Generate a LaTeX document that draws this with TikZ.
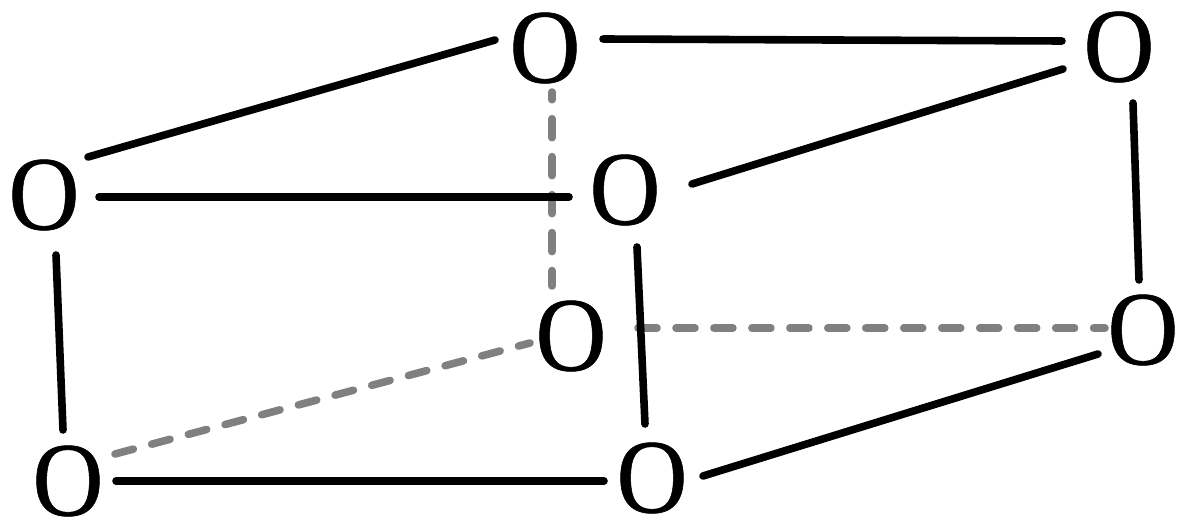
\documentclass[tikz,border=0pt]{standalone}
\usepackage{fontspec}
\setmainfont[FakeBold=0.6]{Liberation Serif}
\newcommand{\atomtext}{\scalebox{0.93}[1.0]{O}}
\tikzset{
  atom/.style={inner sep=0pt,font=\fontsize{75}{75}\selectfont},
  bond/.style={line width=5.4pt,black,line cap=round},
  hidden/.style={line width=5.4pt,color=gray,line cap=round,dash pattern=on 13.5pt off 13.5pt}
}
\begin{document}
\begin{tikzpicture}[x=0.025cm,y=-0.025cm]
    \useasboundingbox (0,0) rectangle (1186,525);
    \node[atom] (a) at (44,195) {\atomtext};
    \node[atom] (b) at (625,190) {\atomtext};
    \node[atom] (c) at (545,48) {\atomtext};
    \node[atom] (d) at (1119,47) {\atomtext};
    \node[atom] (e) at (571,336) {\atomtext};
    \node[atom] (f) at (1143,330) {\atomtext};
    \node[atom] (g) at (68,481) {\atomtext};
    \node[atom] (h) at (652,478) {\atomtext};
    % dashed back edges
    \draw[hidden,dash phase=8pt] ([shift={(7,44)}]c.center) -- ([shift={(-19,-50)}]e.center);
    \draw[hidden] ([shift={(67,-8)}]e.center) -- ([shift={(-38,-2)}]f.center);
    \draw[hidden] ([shift={(47,-27)}]g.center) -- ([shift={(-41,7)}]e.center);
    % solid edges
    \draw[bond] ([shift={(44,-38)}]a.center) -- ([shift={(-50,-8)}]c.center);
    \draw[bond] ([shift={(55,2)}]a.center) -- ([shift={(-56,7)}]b.center);
    \draw[bond] ([shift={(58,-9)}]c.center) -- ([shift={(-57,-6)}]d.center);
    \draw[bond] ([shift={(67,-6)}]b.center) -- ([shift={(-56,22)}]d.center);
    \draw[bond] ([shift={(14,56)}]d.center) -- ([shift={(-4,-50)}]f.center);
    \draw[bond] ([shift={(12,60)}]a.center) -- ([shift={(-5,-51)}]g.center);
    \draw[bond] ([shift={(12,57)}]b.center) -- ([shift={(-7,-54)}]h.center);
    \draw[bond] ([shift={(48,0)}]g.center) -- ([shift={(-48,3)}]h.center);
    \draw[bond] ([shift={(51,-2)}]h.center) -- ([shift={(-45,24)}]f.center);
\end{tikzpicture}
\end{document}
